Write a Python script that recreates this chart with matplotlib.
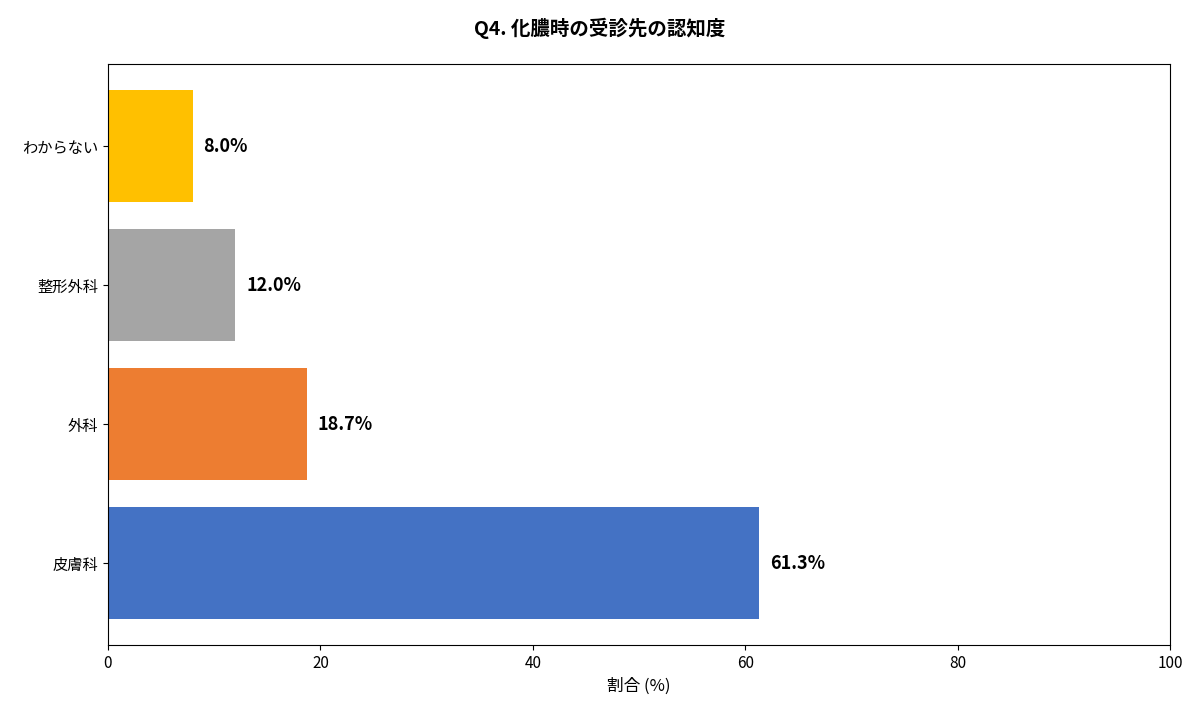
import matplotlib
matplotlib.use("Agg")
import matplotlib.pyplot as plt

plt.rcParams['font.family'] = ['Noto Sans CJK JP', 'DejaVu Sans']

categories = ['皮膚科', '外科', '整形外科', 'わからない']
values = [61.3, 18.7, 12.0, 8.0]
colors = ['#4472C4', '#ED7D31', '#A5A5A5', '#FFC000']

fig = plt.figure(figsize=(12, 7.12), dpi=100)
ax = fig.add_axes([0.09, 0.094, 0.885, 0.816])

bars = ax.barh(categories, values, color=colors, height=0.8)
for bar, v in zip(bars, values):
    ax.text(v + 1, bar.get_y() + bar.get_height() / 2, f'{v:.1f}%',
            va='center', ha='left', fontsize=13, fontweight='bold')

ax.set_xlim(0, 100)
ax.set_xlabel('割合 (%)', fontsize=12)
ax.tick_params(axis='x', labelsize=11)
ax.tick_params(axis='y', labelsize=11)
fig.suptitle('Q4. 化膿時の受診先の認知度', fontsize=14, fontweight='bold', y=0.975)

fig.savefig('out.png')
